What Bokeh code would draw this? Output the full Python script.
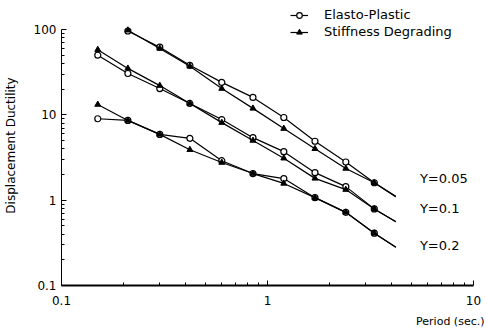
from bokeh.plotting import figure
from bokeh.models import FixedTicker, Legend, LegendItem, Title, ColumnDataSource
from bokeh.embed import file_html
from bokeh.resources import INLINE
from bokeh.core.properties import value

# ---- data ----
periods = [0.15, 0.21, 0.30, 0.42, 0.60, 0.85, 1.2, 1.7, 2.4, 3.3, 4.2]

# Y = 0.05 curves start at T = 0.21
ep_y005 = [96, 62, 38, 24, 16, 9.3, 4.9, 2.8, 1.6, 1.1]
sd_y005 = [98, 60, 37, 20.3, 11.9, 6.9, 4.0, 2.35, 1.6, 1.1]
# Y = 0.1
ep_y01 = [50, 30.5, 20.3, 13.6, 8.8, 5.4, 3.7, 2.1, 1.44, 0.79, 0.56]
sd_y01 = [58, 35, 22, 13.6, 8.1, 5.0, 3.1, 1.8, 1.33, 0.79, 0.56]
# Y = 0.2
ep_y02 = [9.0, 8.6, 5.9, 5.3, 2.9, 2.05, 1.79, 1.07, 0.72, 0.41, 0.28]
sd_y02 = [13.2, 8.6, 5.9, 3.9, 2.76, 2.05, 1.57, 1.07, 0.72, 0.41, 0.28]

group_labels = ["Y=0.05", "Y=0.1", "Y=0.2"]
series_names = ["Elasto-Plastic", "Stiffness Degrading"]

x_major = [0.1, 1, 10]
y_major = [0.1, 1, 10, 100]
x_tick_labels = ["0.1", "1", "10"]
y_tick_labels = ["0.1", "1", "10", "100"]

FONT = "DejaVu Sans"

# y range extends a little above 100 to leave room for the legend inside the frame;
# the axis itself is bounded to 0.1..100
p = figure(width=486, height=335, x_axis_type="log", y_axis_type="log",
           x_range=(0.1, 10), y_range=(0.1, 191),
           output_backend="svg", toolbar_location=None,
           min_border_left=59, min_border_right=13, min_border_top=5, min_border_bottom=50)
p.outline_line_color = None
p.grid.visible = False
p.background_fill_color = "white"

def minors(majors):
    out = []
    for m in majors[:-1]:
        out += [m * k for k in range(2, 10)]
    return out

p.xaxis.ticker = FixedTicker(ticks=x_major, minor_ticks=minors(x_major))
p.yaxis.ticker = FixedTicker(ticks=y_major, minor_ticks=minors(y_major))
p.xaxis.major_label_overrides = {t: s for t, s in zip(x_major, x_tick_labels)}
p.yaxis.major_label_overrides = {t: s for t, s in zip(y_major, y_tick_labels)}
p.yaxis.bounds = (y_major[0], y_major[-1])

for ax in (p.xaxis[0], p.yaxis[0]):
    ax.major_tick_in = 5
    ax.major_tick_out = 0
    ax.minor_tick_in = 3
    ax.minor_tick_out = 0
    ax.axis_line_color = "black"
    ax.major_tick_line_color = "black"
    ax.minor_tick_line_color = "black"
    ax.major_label_text_font = FONT
    ax.major_label_text_font_size = "12px"
    ax.major_label_text_color = "black"

p.xaxis.axis_line_width = 2
p.xaxis.major_label_standoff = 10
p.yaxis.major_label_standoff = 5
p.yaxis.axis_label = "Displacement Ductility"
p.yaxis.axis_label_text_font = FONT
p.yaxis.axis_label_text_font_size = "12px"
p.yaxis.axis_label_text_font_style = "normal"
p.yaxis.axis_label_text_color = "black"
p.yaxis.axis_label_standoff = 13

p.add_layout(Title(text="Period (sec.)", align="right", text_font=FONT,
                   text_font_size="11px", text_font_style="normal",
                   text_color="black", standoff=11, offset=-11), "below")

groups = [
    (periods[1:], ep_y005, sd_y005),
    (periods, ep_y01, sd_y01),
    (periods, ep_y02, sd_y02),
]

ep_rends, sd_rends = [], []
label_x, label_y = [], []
for xs, ep, sd in groups:
    l1 = p.line(xs, ep, line_color="black", line_width=1.2)
    m1 = p.scatter(xs[:-1], ep[:-1], marker="circle", size=6, line_color="black",
                   fill_color="white", line_width=1.2)
    l2 = p.line(xs, sd, line_color="black", line_width=1.2)
    m2 = p.scatter(xs[:-1], sd[:-1], marker="triangle", size=6, line_color="black",
                   fill_color="black")
    ep_rends += [l1, m1]
    sd_rends += [l2, m2]
    label_x.append(xs[-1])
    label_y.append(sd[-1])

src = ColumnDataSource(dict(x=label_x, y=label_y, t=group_labels,
                            dy=[-18, -13, -2]))
p.text(x="x", y="y", text="t", source=src, x_offset=24, y_offset="dy",
       text_font=value(FONT), text_font_size="13px", text_color="black",
       text_baseline="middle", text_align="left")

legend = Legend(items=[LegendItem(label=series_names[0], renderers=ep_rends[:2]),
                       LegendItem(label=series_names[1], renderers=sd_rends[:2])],
                location=(229, 246), orientation="vertical",
                border_line_color=None, background_fill_alpha=0,
                padding=0, margin=0, spacing=2, glyph_width=18, glyph_height=14,
                label_standoff=16, label_text_font=FONT, label_text_font_size="13px",
                label_text_color="black", label_height=15)
p.add_layout(legend, "center")

open("out.html", "w").write(file_html(p, INLINE))
